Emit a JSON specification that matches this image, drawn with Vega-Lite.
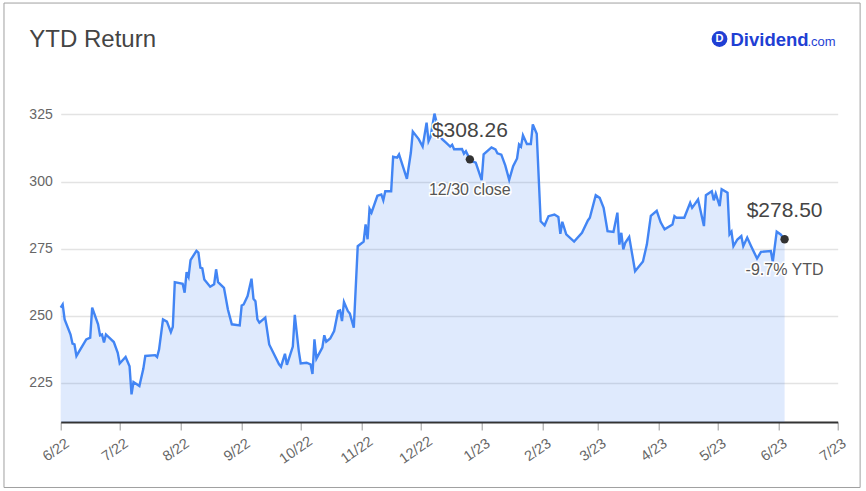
{
  "$schema": "https://vega.github.io/schema/vega-lite/v6.json",
  "width": 777,
  "height": 332,
  "autosize": {"type": "none"},
  "padding": {"left": 60.7, "top": 90, "right": 28.3, "bottom": 69},
  "background": "white",
  "title": {"text": "YTD Return", "anchor": "start", "frame": "group", "dx": -31.4, "dy": 68, "offset": 0, "baseline": "alphabetic", "fontSize": 24, "font": "Liberation Sans", "fontWeight": "normal", "color": "#444444"},
  "config": {"view": {"stroke": null}, "font": "Liberation Sans"},
  "datasets": {
    "prices": [
      {"date": "2022-06-01", "price": 253.0}, {"date": "2022-06-02", "price": 254.2}, {"date": "2022-06-03", "price": 248.6},
      {"date": "2022-06-06", "price": 243.0}, {"date": "2022-06-07", "price": 239.6}, {"date": "2022-06-08", "price": 239.3},
      {"date": "2022-06-09", "price": 235.0}, {"date": "2022-06-14", "price": 241.2}, {"date": "2022-06-16", "price": 241.8},
      {"date": "2022-06-17", "price": 253.0}, {"date": "2022-06-20", "price": 246.8}, {"date": "2022-06-21", "price": 242.7},
      {"date": "2022-06-22", "price": 243.0}, {"date": "2022-06-23", "price": 240.0}, {"date": "2022-06-24", "price": 243.0},
      {"date": "2022-06-28", "price": 240.2}, {"date": "2022-06-30", "price": 236.2}, {"date": "2022-07-01", "price": 232.2},
      {"date": "2022-07-04", "price": 234.6}, {"date": "2022-07-06", "price": 231.2}, {"date": "2022-07-07", "price": 220.7},
      {"date": "2022-07-08", "price": 225.3}, {"date": "2022-07-11", "price": 223.8}, {"date": "2022-07-13", "price": 230.2},
      {"date": "2022-07-14", "price": 235.0}, {"date": "2022-07-19", "price": 235.3}, {"date": "2022-07-20", "price": 234.6},
      {"date": "2022-07-21", "price": 237.4}, {"date": "2022-07-23", "price": 248.6}, {"date": "2022-07-25", "price": 247.8},
      {"date": "2022-07-27", "price": 243.9}, {"date": "2022-07-28", "price": 245.9}, {"date": "2022-07-29", "price": 262.5},
      {"date": "2022-08-02", "price": 261.9}, {"date": "2022-08-03", "price": 258.6}, {"date": "2022-08-04", "price": 266.2},
      {"date": "2022-08-05", "price": 264.5}, {"date": "2022-08-06", "price": 270.7}, {"date": "2022-08-09", "price": 274.2},
      {"date": "2022-08-10", "price": 273.5}, {"date": "2022-08-11", "price": 267.9}, {"date": "2022-08-12", "price": 267.6},
      {"date": "2022-08-13", "price": 263.5}, {"date": "2022-08-16", "price": 260.8}, {"date": "2022-08-18", "price": 261.7},
      {"date": "2022-08-19", "price": 267.3}, {"date": "2022-08-20", "price": 262.5}, {"date": "2022-08-23", "price": 260.4},
      {"date": "2022-08-25", "price": 252.3}, {"date": "2022-08-27", "price": 246.8}, {"date": "2022-08-31", "price": 246.4},
      {"date": "2022-09-01", "price": 253.8}, {"date": "2022-09-02", "price": 254.2}, {"date": "2022-09-04", "price": 257.3},
      {"date": "2022-09-06", "price": 263.8}, {"date": "2022-09-07", "price": 256.3}, {"date": "2022-09-08", "price": 255.4},
      {"date": "2022-09-09", "price": 248.6}, {"date": "2022-09-10", "price": 247.4}, {"date": "2022-09-13", "price": 249.3},
      {"date": "2022-09-15", "price": 239.3}, {"date": "2022-09-20", "price": 231.9}, {"date": "2022-09-21", "price": 231.0},
      {"date": "2022-09-23", "price": 235.8}, {"date": "2022-09-24", "price": 231.7}, {"date": "2022-09-27", "price": 238.5},
      {"date": "2022-09-28", "price": 250.3}, {"date": "2022-09-30", "price": 237.0}, {"date": "2022-10-01", "price": 232.2},
      {"date": "2022-10-04", "price": 232.5}, {"date": "2022-10-06", "price": 231.9}, {"date": "2022-10-07", "price": 228.3},
      {"date": "2022-10-08", "price": 241.2}, {"date": "2022-10-09", "price": 234.0}, {"date": "2022-10-12", "price": 238.1},
      {"date": "2022-10-13", "price": 242.7}, {"date": "2022-10-14", "price": 240.3}, {"date": "2022-10-16", "price": 241.5},
      {"date": "2022-10-18", "price": 244.3}, {"date": "2022-10-20", "price": 251.7}, {"date": "2022-10-21", "price": 252.0},
      {"date": "2022-10-22", "price": 248.0}, {"date": "2022-10-23", "price": 255.1}, {"date": "2022-10-25", "price": 251.7},
      {"date": "2022-10-26", "price": 250.8}, {"date": "2022-10-28", "price": 245.5}, {"date": "2022-10-30", "price": 275.9},
      {"date": "2022-11-02", "price": 277.6}, {"date": "2022-11-03", "price": 284.0}, {"date": "2022-11-04", "price": 278.5},
      {"date": "2022-11-05", "price": 289.8}, {"date": "2022-11-06", "price": 288.4}, {"date": "2022-11-09", "price": 294.7},
      {"date": "2022-11-11", "price": 295.2}, {"date": "2022-11-12", "price": 293.0}, {"date": "2022-11-13", "price": 296.4},
      {"date": "2022-11-16", "price": 296.4}, {"date": "2022-11-17", "price": 309.2}, {"date": "2022-11-19", "price": 308.9},
      {"date": "2022-11-20", "price": 310.1}, {"date": "2022-11-24", "price": 301.0}, {"date": "2022-11-26", "price": 310.7},
      {"date": "2022-11-27", "price": 318.6}, {"date": "2022-11-30", "price": 315.8}, {"date": "2022-12-02", "price": 313.0},
      {"date": "2022-12-04", "price": 321.9}, {"date": "2022-12-05", "price": 315.0}, {"date": "2022-12-06", "price": 316.6},
      {"date": "2022-12-08", "price": 325.3}, {"date": "2022-12-11", "price": 316.4}, {"date": "2022-12-14", "price": 314.4},
      {"date": "2022-12-16", "price": 313.0}, {"date": "2022-12-17", "price": 313.7}, {"date": "2022-12-18", "price": 312.0},
      {"date": "2022-12-22", "price": 312.1}, {"date": "2022-12-23", "price": 310.4}, {"date": "2022-12-24", "price": 311.3},
      {"date": "2022-12-26", "price": 308.26}, {"date": "2022-12-27", "price": 307.6}, {"date": "2022-12-29", "price": 307.0},
      {"date": "2023-01-01", "price": 300.5}, {"date": "2023-01-02", "price": 310.1}, {"date": "2023-01-06", "price": 312.7},
      {"date": "2023-01-08", "price": 312.0}, {"date": "2023-01-09", "price": 310.5}, {"date": "2023-01-11", "price": 310.0},
      {"date": "2023-01-13", "price": 306.0}, {"date": "2023-01-15", "price": 300.6}, {"date": "2023-01-17", "price": 305.7},
      {"date": "2023-01-19", "price": 308.6}, {"date": "2023-01-20", "price": 313.8}, {"date": "2023-01-21", "price": 313.0},
      {"date": "2023-01-22", "price": 317.2}, {"date": "2023-01-24", "price": 314.0}, {"date": "2023-01-26", "price": 314.0},
      {"date": "2023-01-27", "price": 321.3}, {"date": "2023-01-29", "price": 317.8}, {"date": "2023-01-31", "price": 285.2},
      {"date": "2023-02-02", "price": 283.7}, {"date": "2023-02-04", "price": 287.1}, {"date": "2023-02-07", "price": 287.7},
      {"date": "2023-02-09", "price": 286.8}, {"date": "2023-02-10", "price": 280.5}, {"date": "2023-02-11", "price": 285.0},
      {"date": "2023-02-13", "price": 280.3}, {"date": "2023-02-17", "price": 277.6}, {"date": "2023-02-21", "price": 280.9},
      {"date": "2023-02-24", "price": 285.5}, {"date": "2023-02-25", "price": 286.5}, {"date": "2023-02-28", "price": 294.9},
      {"date": "2023-03-02", "price": 293.9}, {"date": "2023-03-04", "price": 290.2}, {"date": "2023-03-06", "price": 281.5},
      {"date": "2023-03-09", "price": 281.2}, {"date": "2023-03-11", "price": 288.4}, {"date": "2023-03-12", "price": 276.5},
      {"date": "2023-03-13", "price": 280.9}, {"date": "2023-03-14", "price": 274.7}, {"date": "2023-03-15", "price": 277.2},
      {"date": "2023-03-17", "price": 279.4}, {"date": "2023-03-20", "price": 266.6}, {"date": "2023-03-24", "price": 270.2},
      {"date": "2023-03-26", "price": 276.6}, {"date": "2023-03-28", "price": 287.2}, {"date": "2023-03-31", "price": 289.1},
      {"date": "2023-04-02", "price": 284.8}, {"date": "2023-04-04", "price": 282.2}, {"date": "2023-04-08", "price": 284.0},
      {"date": "2023-04-09", "price": 287.1}, {"date": "2023-04-10", "price": 286.5}, {"date": "2023-04-14", "price": 286.5},
      {"date": "2023-04-17", "price": 292.1}, {"date": "2023-04-18", "price": 290.2}, {"date": "2023-04-21", "price": 293.3},
      {"date": "2023-04-24", "price": 283.4}, {"date": "2023-04-25", "price": 294.9}, {"date": "2023-04-28", "price": 296.4},
      {"date": "2023-04-29", "price": 293.0}, {"date": "2023-04-30", "price": 295.5}, {"date": "2023-05-02", "price": 290.8},
      {"date": "2023-05-03", "price": 297.1}, {"date": "2023-05-06", "price": 295.8}, {"date": "2023-05-07", "price": 280.3},
      {"date": "2023-05-08", "price": 281.3}, {"date": "2023-05-09", "price": 275.9}, {"date": "2023-05-11", "price": 278.4},
      {"date": "2023-05-13", "price": 279.7}, {"date": "2023-05-14", "price": 275.9}, {"date": "2023-05-16", "price": 279.1},
      {"date": "2023-05-18", "price": 275.9}, {"date": "2023-05-21", "price": 271.3}, {"date": "2023-05-23", "price": 273.8},
      {"date": "2023-05-28", "price": 274.1}, {"date": "2023-05-29", "price": 270.1}, {"date": "2023-05-31", "price": 281.3},
      {"date": "2023-06-02", "price": 280.3}, {"date": "2023-06-04", "price": 278.5}
    ],
    "notes": [
      {"date": "2022-12-26", "price": 308.26, "top": "$308.26", "bottom": "12/30 close"},
      {"date": "2023-06-04", "price": 278.5, "top": "$278.50", "bottom": "-9.7% YTD"}
    ]
  },
  "encoding": {
    "x": {
      "field": "date", "type": "temporal",
      "scale": {"type": "utc", "domain": [{"year": 2022, "month": 6, "date": 1, "utc": true}, {"year": 2023, "month": 7, "date": 1, "utc": true}]},
      "axis": {
        "title": null, "grid": false, "format": "%-m/%y",
        "values": [
          {"year": 2022, "month": 6, "date": 1, "utc": true}, {"year": 2022, "month": 7, "date": 1, "utc": true},
          {"year": 2022, "month": 8, "date": 1, "utc": true}, {"year": 2022, "month": 9, "date": 1, "utc": true},
          {"year": 2022, "month": 10, "date": 1, "utc": true}, {"year": 2022, "month": 11, "date": 1, "utc": true},
          {"year": 2022, "month": 12, "date": 1, "utc": true}, {"year": 2023, "month": 1, "date": 1, "utc": true},
          {"year": 2023, "month": 2, "date": 1, "utc": true}, {"year": 2023, "month": 3, "date": 1, "utc": true},
          {"year": 2023, "month": 4, "date": 1, "utc": true}, {"year": 2023, "month": 5, "date": 1, "utc": true},
          {"year": 2023, "month": 6, "date": 1, "utc": true}, {"year": 2023, "month": 7, "date": 1, "utc": true}
        ],
        "labelAngle": -35, "labelAlign": "center", "labelBaseline": "middle", "labelPadding": 20, "labelOffset": -5,
        "labelFontSize": 14.5, "labelColor": "#666666", "labelFont": "Liberation Sans", "labelOverlap": false, "labelFlush": false,
        "domainColor": "#333333", "domainWidth": 2, "tickColor": "#999999", "tickSize": 8, "tickWidth": 1
      }
    },
    "y": {
      "field": "price", "type": "quantitative",
      "scale": {"domain": [210.4, 334.1], "nice": false, "zero": false},
      "axis": {
        "title": null, "values": [225, 250, 275, 300, 325], "grid": true, "gridColor": "#e3e3e3", "gridWidth": 1.5,
        "domain": false, "ticks": false, "labelPadding": 8.5, "labelFontSize": 14, "labelColor": "#666666", "labelFont": "Liberation Sans"
      }
    }
  },
  "layer": [
    {
      "data": {"name": "notes"},
      "transform": [{"filter": "datum.bottom === '-9.7% YTD'"}],
      "mark": {"type": "rect", "fill": "transparent", "stroke": "#a0a0a0", "strokeWidth": 1, "clip": false},
      "encoding": {
        "x": {"datum": 1651550688000, "type": "temporal"},
        "x2": {"datum": 1689154560000},
        "y": {"datum": 366.5, "type": "quantitative"},
        "y2": {"datum": 186.0}
      }
    },
    {
      "data": {"name": "prices"},
      "mark": {"type": "area", "color": "#4285f4", "fillOpacity": 0.17, "interpolate": "linear"},
      "encoding": {"y2": {"datum": 210.4}}
    },
    {
      "data": {"name": "prices"},
      "mark": {"type": "line", "color": "#4285f4", "strokeWidth": 2.4, "interpolate": "linear"}
    },
    {
      "data": {"name": "notes"},
      "mark": {"type": "point", "filled": true, "color": "#333333", "size": 70, "opacity": 1}
    },
    {
      "data": {"name": "notes"},
      "mark": {"type": "text", "align": "center", "baseline": "alphabetic", "dy": -22, "fontSize": 21, "font": "Liberation Sans", "stroke": "white", "strokeWidth": 3, "fill": "white"},
      "encoding": {"text": {"field": "top"}}
    },
    {
      "data": {"name": "notes"},
      "mark": {"type": "text", "align": "center", "baseline": "alphabetic", "dy": -22, "fontSize": 21, "font": "Liberation Sans", "color": "#444444"},
      "encoding": {"text": {"field": "top"}}
    },
    {
      "data": {"name": "notes"},
      "mark": {"type": "text", "align": "center", "baseline": "alphabetic", "dy": 36, "fontSize": 16, "font": "Liberation Sans", "stroke": "white", "strokeWidth": 3, "fill": "white"},
      "encoding": {"text": {"field": "bottom"}}
    },
    {
      "data": {"name": "notes"},
      "mark": {"type": "text", "align": "center", "baseline": "alphabetic", "dy": 36, "fontSize": 16, "font": "Liberation Sans", "color": "#555555"},
      "encoding": {"text": {"field": "bottom"}}
    },
    {
      "data": {"name": "notes"},
      "transform": [{"filter": "datum.bottom === '-9.7% YTD'"}],
      "mark": {"type": "point", "shape": "circle", "filled": true, "color": "#1f3fd4", "size": 250, "opacity": 1, "clip": false},
      "encoding": {
        "x": {"datum": 1682978400000, "type": "temporal"},
        "y": {"datum": 353.1, "type": "quantitative"}
      }
    },
    {
      "data": {"name": "notes"},
      "transform": [{"filter": "datum.bottom === '-9.7% YTD'"}],
      "mark": {"type": "text", "align": "center", "baseline": "middle", "fontSize": 11, "fontWeight": "bold", "font": "Liberation Sans", "color": "white", "clip": false},
      "encoding": {
        "x": {"datum": 1682978400000, "type": "temporal"},
        "y": {"datum": 353.1, "type": "quantitative"},
        "text": {"value": "D"}
      }
    },
    {
      "data": {"name": "notes"},
      "transform": [{"filter": "datum.bottom === '-9.7% YTD'"}],
      "mark": {"type": "text", "align": "left", "baseline": "alphabetic", "dx": 11, "dy": 6.5, "fontSize": 18.5, "fontWeight": "bold", "font": "Liberation Sans", "color": "#1f3fd4", "clip": false},
      "encoding": {
        "x": {"datum": 1682978400000, "type": "temporal"},
        "y": {"datum": 353.1, "type": "quantitative"},
        "text": {"value": "Dividend"}
      }
    },
    {
      "data": {"name": "notes"},
      "transform": [{"filter": "datum.bottom === '-9.7% YTD'"}],
      "mark": {"type": "text", "align": "left", "baseline": "alphabetic", "dx": 88, "dy": 6.5, "fontSize": 13, "font": "Liberation Sans", "color": "#1f3fd4", "clip": false},
      "encoding": {
        "x": {"datum": 1682978400000, "type": "temporal"},
        "y": {"datum": 353.1, "type": "quantitative"},
        "text": {"value": ".com"}
      }
    }
  ]
}
